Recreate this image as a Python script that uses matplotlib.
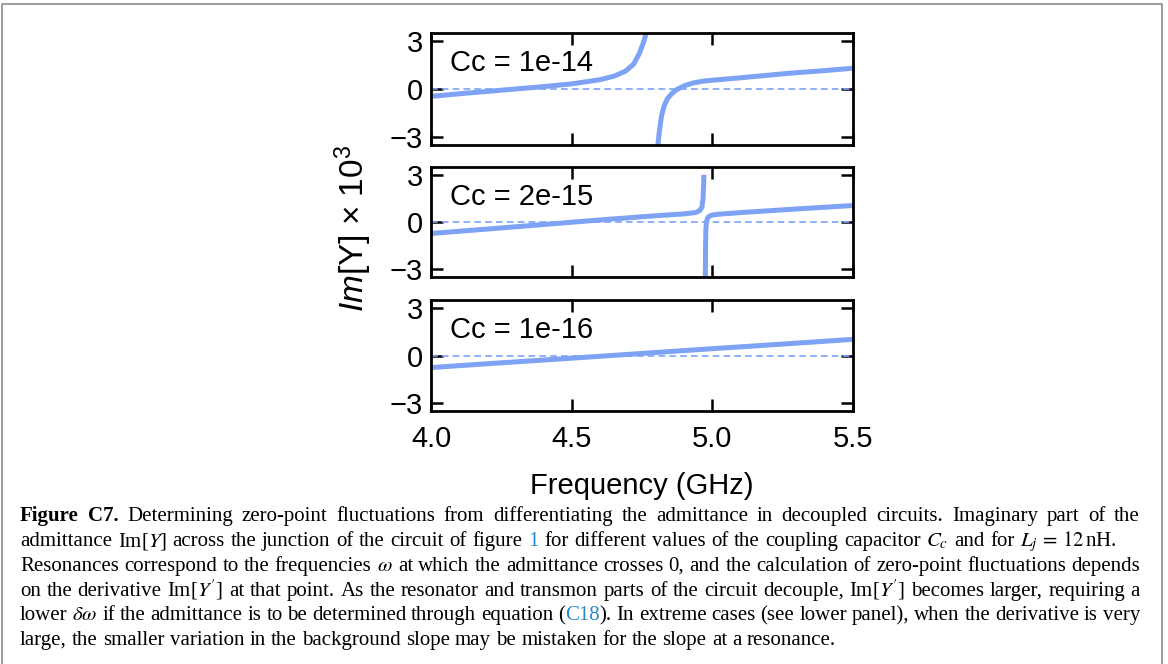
import matplotlib
matplotlib.use("Agg")
import matplotlib.pyplot as plt
from matplotlib.lines import Line2D

plt.rcParams['font.family'] = ['Liberation Sans', 'DejaVu Sans']
plt.rcParams['mathtext.fontset'] = 'custom'
plt.rcParams['mathtext.rm'] = 'Liberation Sans'
plt.rcParams['mathtext.it'] = 'Liberation Sans:italic'

# valores (Im[Y] x 10^3 frente a frecuencia en GHz)
cc_labels = ['Cc = 1e-14', 'Cc = 2e-15', 'Cc = 1e-16']

freq_1e14_a = [4.0, 4.1, 4.2, 4.3, 4.4, 4.5, 4.6, 4.65, 4.69, 4.72, 4.74, 4.755, 4.767]
im_1e14_a = [-0.46, -0.30, -0.15, 0.0, 0.15, 0.32, 0.58, 0.8, 1.1, 1.55, 2.2, 2.9, 3.6]
freq_1e14_b = [4.806, 4.812, 4.82, 4.83, 4.84, 4.855, 4.873, 4.9, 4.932, 4.97, 5.027, 5.1, 5.264, 5.4, 5.5]
im_1e14_b = [-3.6, -2.6, -1.62, -1.0, -0.62, -0.3, -0.04, 0.2, 0.38, 0.5, 0.59, 0.7, 0.97, 1.15, 1.3]

freq_2e15_a = [4.0, 4.2, 4.4, 4.6, 4.8, 4.9, 4.94, 4.955, 4.963, 4.967, 4.969, 4.970]
im_2e15_a = [-0.73, -0.45, -0.16, 0.13, 0.4, 0.52, 0.6, 0.72, 0.95, 1.5, 2.3, 3.0]
freq_2e15_b = [4.975, 4.976, 4.977, 4.979, 4.983, 4.99, 5.0, 5.02, 5.1, 5.3, 5.5]
im_2e15_b = [-3.6, -1.5, -0.5, 0.0, 0.25, 0.38, 0.44, 0.49, 0.6, 0.83, 1.05]

freq_1e16 = [4.0, 4.25, 4.5, 4.75, 5.0, 5.25, 5.5]
im_1e16 = [-0.76, -0.46, -0.17, 0.13, 0.43, 0.72, 1.02]

x_ticks = [4.0, 4.5, 5.0, 5.5]
x_ticklabels = ['4.0', '4.5', '5.0', '5.5']
y_ticks = [-3, 0, 3]

line_color = '#7ea2f4'
W, H = 1168, 664

fig = plt.figure(figsize=(W / 100, H / 100), dpi=100)

# posiciones de los paneles en pixeles (arriba, abajo)
left_px, right_px = 431, 853
panel_px = [(33, 145), (167, 277), (300, 411)]

series = [
    [(freq_1e14_a, im_1e14_a), (freq_1e14_b, im_1e14_b)],
    [(freq_2e15_a, im_2e15_a), (freq_2e15_b, im_2e15_b)],
    [(freq_1e16, im_1e16)],
]

for k, (top, bot) in enumerate(panel_px):
    ax = fig.add_axes([left_px / W, 1 - bot / H, (right_px - left_px) / W, (bot - top) / H])
    for f, v in series[k]:
        ax.plot(f, v, color=line_color, lw=3.6, solid_capstyle='butt')
    ax.axhline(0, color=line_color, lw=1.2, ls=(0, (4, 2.5)))
    ax.set_xlim(4.0, 5.5)
    ax.set_ylim(-3.5, 3.5)
    ax.set_xticks(x_ticks)
    ax.set_yticks(y_ticks)
    ax.tick_params(direction='in', top=True, right=True, length=8.5, width=1.8,
                   labelsize=21, pad=6)
    ax.tick_params(axis='x', pad=10)
    for s in ax.spines.values():
        s.set_linewidth(2.0)
    ax.text(0.045, 0.73, cc_labels[k], transform=ax.transAxes, fontsize=21,
            va='center', ha='left')
    if k < 2:
        ax.tick_params(labelbottom=False)
    else:
        ax.set_xticklabels(x_ticklabels)
        ax.set_xlabel('Frequency (GHz)', fontsize=21, labelpad=14)

fig.text(353 / W, 1 - 228 / H, r'$\mathit{Im}$[Y] × 10$^3$', rotation=90,
         fontsize=24, ha='center', va='center', math_fontfamily='custom')

# marco gris de la figura
fig.add_artist(Line2D([2 / W, 2 / W, 1162 / W, 1162 / W], [0, 1 - 4 / H, 1 - 4 / H, 0],
                      transform=fig.transFigure, color='#8c8c8c', lw=1.2))

# pie de figura, justificado palabra por palabra
blue = '#2a88c8'
bold = {'weight': 'bold'}
cap = dict(family='Liberation Serif', size=15, color='black', math_fontfamily='stix')
caption_lines = [
    [[('Figure', bold)], [('C7.', bold)]] +
    'Determining zero-point fluctuations from differentiating the admittance in decoupled circuits. Imaginary part of the'.split(),
    'admittance Im[$Y$] across the junction of the circuit of figure'.split() + [[('1', {'color': blue})]] +
    'for different values of the coupling capacitor $C_c$ and for $L_j\\,=\\,12\\,$nH.'.split(),
    'Resonances correspond to the frequencies $\\omega$ at which the admittance crosses 0, and the calculation of zero-point fluctuations depends'.split(),
    "on the derivative Im[$Y'$] at that point. As the resonator and transmon parts of the circuit decouple, Im[$Y'$] becomes larger, requiring a".split(),
    'lower $\\delta\\omega$ if the admittance is to be determined through equation'.split() +
    [[('(', {}), ('C18', {'color': blue}), (').', {})]] +
    'In extreme cases (see lower panel), when the derivative is very'.split(),
    'large, the smaller variation in the background slope may be mistaken for the slope at a resonance.'.split(),
]
baselines = [521, 546, 571, 596, 620, 645]
right_edges = [1140, 1117, 1140, 1140, 1140, None]
x0 = 20
space_px = 0.25 * 15 * 100 / 72

renderer = fig.canvas.get_renderer()
for words, yb, x_end in zip(caption_lines, baselines, right_edges):
    word_artists = []
    for w in words:
        pieces = w if isinstance(w, list) else [(w, {})]
        arts = []
        for txt, extra in pieces:
            arts.append(fig.text(0, 1 - yb / H, txt, ha='left', va='baseline', **dict(cap, **extra)))
        word_artists.append(arts)
    widths = [[a.get_window_extent(renderer).width for a in arts] for arts in word_artists]
    total = sum(sum(ws) for ws in widths)
    gap = space_px if x_end is None else (x_end - x0 - total) / (len(words) - 1)
    x = x0
    for arts, ws in zip(word_artists, widths):
        for a, wd in zip(arts, ws):
            a.set_x(x / W)
            x += wd
        x += gap

fig.savefig('out.png', dpi=100)
